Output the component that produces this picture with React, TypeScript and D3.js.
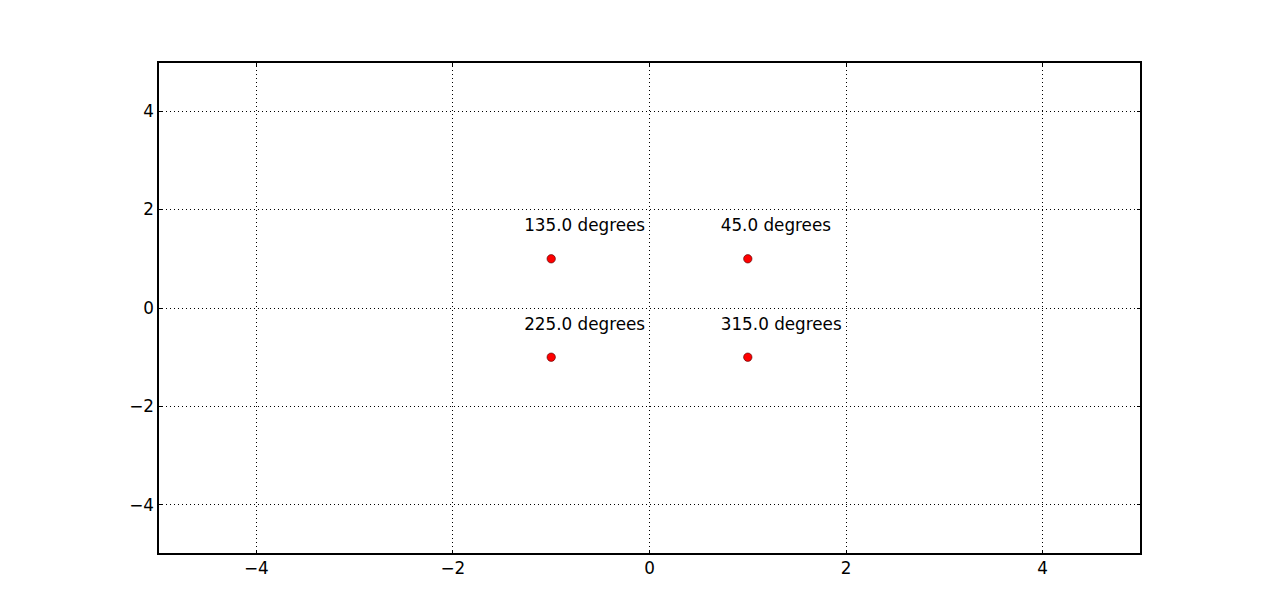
import React from "react";
import * as d3 from "d3";

const xs = [1, -1, -1, 1];
const ys = [1, 1, -1, -1];
const labels = ["45.0 degrees", "135.0 degrees", "225.0 degrees", "315.0 degrees"];
const xTicks = [-4, -2, 0, 2, 4];
const yTicks = [-4, -2, 0, 2, 4];

const W = 1267, H = 615;
const L = 158, R = 1141, T = 62, B = 554;

export default function App() {
  const x = d3.scaleLinear().domain([-5, 5]).range([L, R]);
  const y = d3.scaleLinear().domain([-5, 5]).range([B, T]);
  const fmt = (v: number) => (v < 0 ? "\u2212" + Math.abs(v) : String(v));
  const font = "'DejaVu Sans', sans-serif";
  return (
    <svg width={W} height={H} style={{ position: "absolute", left: 0, top: 0, background: "#fff" }}>
      <rect x={0} y={0} width={W} height={H} fill="#fff" />
      {xTicks.map((t) => (
        <line key={"gx" + t} x1={x(t)} x2={x(t)} y1={T} y2={B} stroke="#000" strokeWidth={1} strokeDasharray="1,3" shapeRendering="crispEdges" />
      ))}
      {yTicks.map((t) => (
        <line key={"gy" + t} x1={L} x2={R} y1={y(t)} y2={y(t)} stroke="#000" strokeWidth={1} strokeDasharray="1,3" shapeRendering="crispEdges" />
      ))}
      {xTicks.map((t) => (
        <g key={"tx" + t}>
          <line x1={x(t)} x2={x(t)} y1={B} y2={B - 4} stroke="#000" shapeRendering="crispEdges" />
          <line x1={x(t)} x2={x(t)} y1={T} y2={T + 4} stroke="#000" shapeRendering="crispEdges" />
          <text x={x(t)} y={B + 20} textAnchor="middle" fontFamily={font} fontSize={16.8}>{fmt(t)}</text>
        </g>
      ))}
      {yTicks.map((t) => (
        <g key={"ty" + t}>
          <line x1={L} x2={L + 4} y1={y(t)} y2={y(t)} stroke="#000" shapeRendering="crispEdges" />
          <line x1={R} x2={R - 4} y1={y(t)} y2={y(t)} stroke="#000" shapeRendering="crispEdges" />
          <text x={L - 4} y={y(t)} dy="0.35em" textAnchor="end" fontFamily={font} fontSize={16.8}>{fmt(t)}</text>
        </g>
      ))}
      <rect x={L} y={T} width={R - L} height={B - T} fill="none" stroke="#000" strokeWidth={1.2} shapeRendering="crispEdges" />
      {xs.map((v, i) => (
        <g key={"p" + i}>
          <circle cx={x(v)} cy={y(ys[i])} r={4.2} fill="#ff0000" stroke="#400" strokeWidth={0.6} />
          <text x={x(v - 0.275)} y={y(ys[i] + 0.56)} fontFamily={font} fontSize={16.8}>{labels[i]}</text>
        </g>
      ))}
    </svg>
  );
}
